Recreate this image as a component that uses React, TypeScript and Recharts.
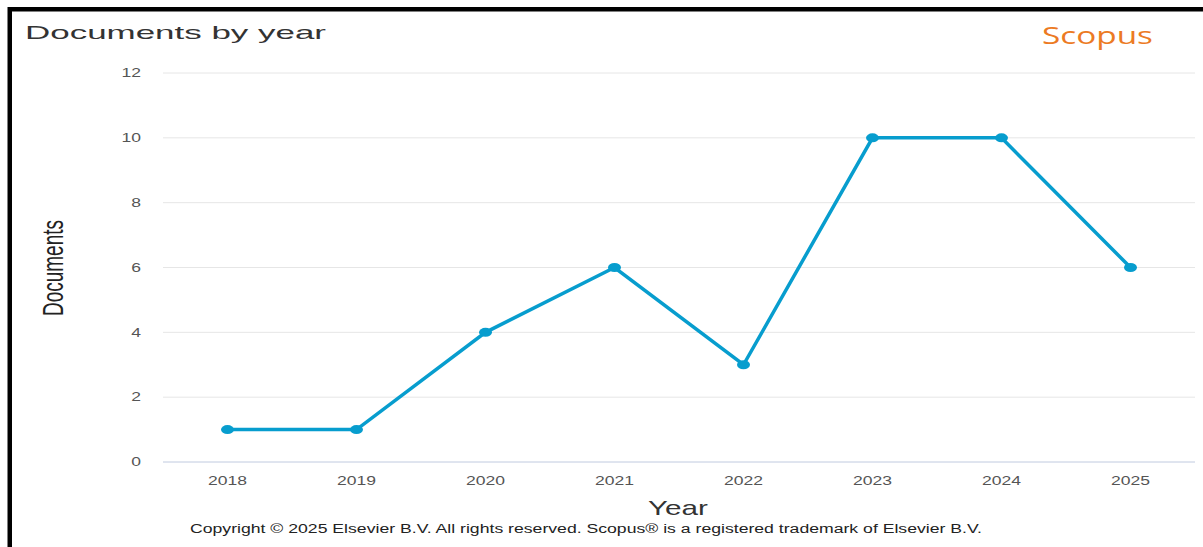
import { LineChart, Line, XAxis, YAxis, CartesianGrid } from "recharts"

const years = ["2018", "2019", "2020", "2021", "2022", "2023", "2024", "2025"]
const documents = [1, 1, 4, 6, 3, 10, 10, 6]
const yTicks = [0, 2, 4, 6, 8, 10, 12]

const data = years.map((year, i) => ({ year, documents: documents[i] }))

const LINE_COLOR = "#079dce"
const FONT = "'Liberation Sans', Arial, sans-serif"
// the reference is stretched sideways, so digits are wider than the font gives
const DIGIT_W = 9.75

function XTick({ x, y, payload }: any) {
  const s = String(payload.value)
  return (
    <text
      x={x}
      y={y + 23}
      textAnchor="middle"
      fontSize={12.5}
      fill="#555"
      fontFamily={FONT}
      textLength={s.length * DIGIT_W}
      lengthAdjust="spacingAndGlyphs"
    >
      {s}
    </text>
  )
}

function YTick({ x, y, payload }: any) {
  const s = String(payload.value)
  return (
    <text
      x={x - 22}
      y={y + 4.3}
      textAnchor="end"
      fontSize={12}
      fill="#555"
      fontFamily={FONT}
      textLength={s.length * DIGIT_W}
      lengthAdjust="spacingAndGlyphs"
    >
      {s}
    </text>
  )
}

function Dot({ cx, cy }: any) {
  if (cx == null || cy == null) return null
  return <ellipse cx={cx} cy={cy} rx={6.5} ry={4.5} fill={LINE_COLOR} />
}

export default function App() {
  return (
    <div
      style={{
        position: "absolute",
        top: 0,
        left: 0,
        width: 1203,
        height: 547,
        background: "#fff",
        overflow: "hidden",
      }}
    >
      <LineChart
        width={1203}
        height={547}
        data={data}
        margin={{ top: 73, right: 8, left: 0, bottom: 55 }}
      >
        <CartesianGrid vertical={false} stroke="#e6e6e6" />
        <XAxis
          dataKey="year"
          height={30}
          padding={{ left: 64.5, right: 64.5 }}
          tickLine={false}
          tickSize={0}
          tickMargin={0}
          axisLine={{ stroke: "#ccd6eb" }}
          tick={<XTick />}
          interval={0}
        />
        <YAxis
          width={163}
          domain={[0, 12]}
          ticks={yTicks}
          axisLine={false}
          tickLine={false}
          tickSize={0}
          tickMargin={0}
          tick={<YTick />}
        />
        <Line
          type="linear"
          dataKey="documents"
          stroke={LINE_COLOR}
          strokeWidth={3.5}
          dot={<Dot />}
          activeDot={false}
          isAnimationActive={false}
        />
      </LineChart>

      <svg
        width={1203}
        height={547}
        style={{ position: "absolute", top: 0, left: 0, pointerEvents: "none" }}
      >
        <rect x={8} y={7} width={1195} height={4.5} fill="#000" />
        <rect x={7.5} y={7} width={4.5} height={540} fill="#000" />
        <text
          x={25}
          y={38.7}
          fontSize={19}
          fill="#333"
          fontFamily={FONT}
          textLength={301}
          lengthAdjust="spacingAndGlyphs"
        >
          Documents by year
        </text>
        <text
          x={1042}
          y={44}
          fontSize={23}
          fill="#ec7a23"
          fontFamily="'Open Sans', sans-serif"
          textLength={111}
          lengthAdjust="spacingAndGlyphs"
        >
          Scopus
        </text>
        <text
          transform="translate(63,268) scale(1.45,1) rotate(-90)"
          textAnchor="middle"
          fontSize={20}
          fill="#222"
          fontFamily={FONT}
          textLength={96}
          lengthAdjust="spacingAndGlyphs"
        >
          Documents
        </text>
        <text
          x={678}
          y={515}
          textAnchor="middle"
          fontSize={21}
          fill="#333"
          fontFamily={FONT}
          textLength={60}
          lengthAdjust="spacingAndGlyphs"
        >
          Year
        </text>
        <text
          x={190}
          y={533}
          fontSize={12.5}
          fill="#222"
          fontFamily={FONT}
          textLength={792}
          lengthAdjust="spacingAndGlyphs"
        >
          Copyright © 2025 Elsevier B.V. All rights reserved. Scopus® is a registered trademark of Elsevier B.V.
        </text>
      </svg>
    </div>
  )
}
